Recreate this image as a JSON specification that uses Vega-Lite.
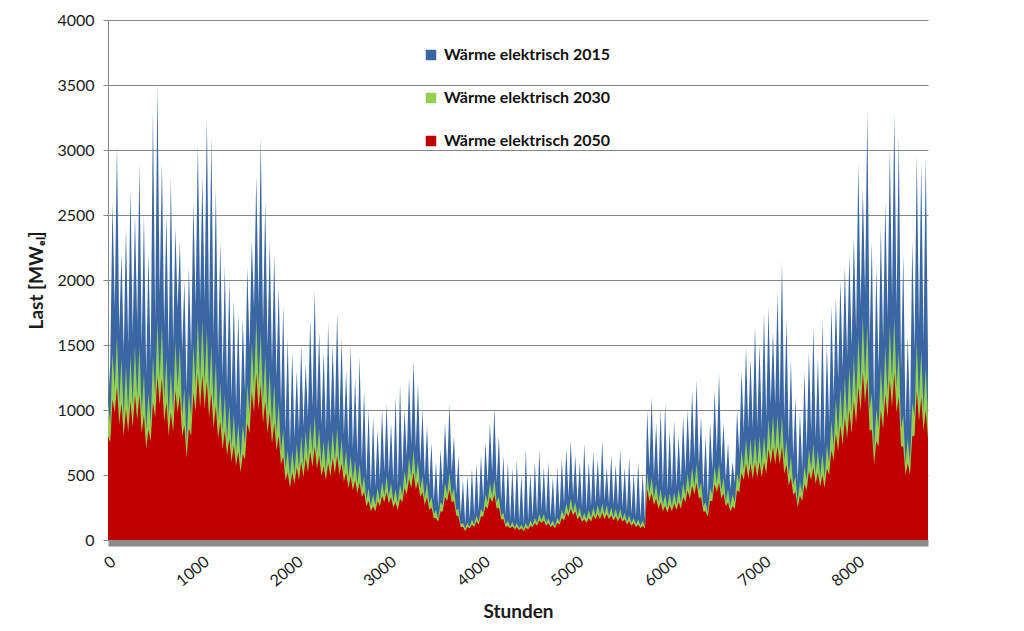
{
"$schema":"https://vega.github.io/schema/vega-lite/v6.json",
"width":820,"height":520,
"autosize":"none",
"padding":{"left":108,"top":20,"right":96,"bottom":91},
"background":"white",
"config":{"view":{"stroke":null},"font":"Lato"},
"data":{"values":[
{"h":0,"r":800,"g":1060,"b":1050},{"h":24,"r":750,"g":890,"b":1360},{"h":48,"r":1080,"g":1440,"b":2600},{"h":72,"r":980,"g":1170,"b":1780},{"h":96,"r":1180,"g":1570,"b":3050},{"h":120,"r":890,"g":1050,"b":1610},{"h":144,"r":1050,"g":1400,"b":2200},{"h":168,"r":800,"g":950,"b":1450},{"h":192,"r":1010,"g":1340,"b":2400},{"h":216,"r":830,"g":990,"b":1510},
{"h":240,"r":1070,"g":1420,"b":2700},{"h":264,"r":870,"g":1040,"b":1580},{"h":288,"r":1120,"g":1490,"b":2500},{"h":312,"r":920,"g":1090,"b":1670},{"h":336,"r":1120,"g":1490,"b":2900},{"h":360,"r":820,"g":980,"b":1490},{"h":384,"r":960,"g":1280,"b":2500},{"h":408,"r":700,"g":840,"b":1280},{"h":432,"r":850,"g":1130,"b":2200},{"h":456,"r":760,"g":900,"b":1380},
{"h":480,"r":1060,"g":1410,"b":3300},{"h":504,"r":940,"g":1110,"b":1700},{"h":528,"r":1260,"g":1680,"b":3500},{"h":552,"r":1040,"g":1240,"b":1890},{"h":576,"r":1240,"g":1650,"b":2900},{"h":600,"r":910,"g":1080,"b":1650},{"h":624,"r":1060,"g":1410,"b":2500},{"h":648,"r":800,"g":950,"b":1450},{"h":672,"r":980,"g":1300,"b":2800},{"h":696,"r":830,"g":990,"b":1510},
{"h":720,"r":1150,"g":1530,"b":2400},{"h":744,"r":980,"g":1170,"b":1780},{"h":768,"r":1120,"g":1490,"b":2300},{"h":792,"r":800,"g":950,"b":1450},{"h":816,"r":880,"g":1170,"b":2000},{"h":840,"r":630,"g":750,"b":1150},{"h":864,"r":860,"g":1140,"b":2100},{"h":888,"r":800,"g":950,"b":1450},{"h":912,"r":1130,"g":1500,"b":2600},{"h":936,"r":990,"g":1180,"b":1800},
{"h":960,"r":1280,"g":1700,"b":3050},{"h":984,"r":1020,"g":1210,"b":1840},{"h":1008,"r":1270,"g":1690,"b":2800},{"h":1032,"r":1010,"g":1200,"b":1830},{"h":1056,"r":1220,"g":1620,"b":3250},{"h":1080,"r":940,"g":1120,"b":1710},{"h":1104,"r":1130,"g":1500,"b":3100},{"h":1128,"r":860,"g":1030,"b":1570},{"h":1152,"r":1030,"g":1370,"b":2700},{"h":1176,"r":780,"g":920,"b":1410},
{"h":1200,"r":910,"g":1210,"b":2300},{"h":1224,"r":700,"g":830,"b":1260},{"h":1248,"r":840,"g":1120,"b":2100},{"h":1272,"r":650,"g":770,"b":1170},{"h":1296,"r":780,"g":1040,"b":2000},{"h":1320,"r":600,"g":710,"b":1090},{"h":1344,"r":730,"g":970,"b":1850},{"h":1368,"r":570,"g":670,"b":1030},{"h":1392,"r":680,"g":900,"b":1750},{"h":1416,"r":520,"g":620,"b":940},
{"h":1440,"r":660,"g":880,"b":1700},{"h":1464,"r":620,"g":740,"b":1130},{"h":1488,"r":900,"g":1200,"b":2100},{"h":1512,"r":820,"g":970,"b":1480},{"h":1536,"r":1140,"g":1520,"b":2300},{"h":1560,"r":980,"g":1170,"b":1780},{"h":1584,"r":1280,"g":1700,"b":2800},{"h":1608,"r":1000,"g":1190,"b":1810},{"h":1632,"r":1200,"g":1600,"b":3100},{"h":1656,"r":900,"g":1070,"b":1640},
{"h":1680,"r":1070,"g":1420,"b":2600},{"h":1704,"r":820,"g":980,"b":1490},{"h":1728,"r":980,"g":1300,"b":2300},{"h":1752,"r":740,"g":880,"b":1350},{"h":1776,"r":900,"g":1200,"b":2200},{"h":1800,"r":690,"g":820,"b":1250},{"h":1824,"r":800,"g":1060,"b":1950},{"h":1848,"r":580,"g":680,"b":1040},{"h":1872,"r":640,"g":850,"b":1800},{"h":1896,"r":460,"g":550,"b":840},
{"h":1920,"r":520,"g":690,"b":1550},{"h":1944,"r":400,"g":480,"b":730},{"h":1968,"r":520,"g":690,"b":1450},{"h":1992,"r":430,"g":510,"b":780},{"h":2016,"r":560,"g":740,"b":1300},{"h":2040,"r":460,"g":550,"b":840},{"h":2064,"r":600,"g":800,"b":1500},{"h":2088,"r":480,"g":570,"b":870},{"h":2112,"r":630,"g":840,"b":1350},{"h":2136,"r":520,"g":620,"b":940},
{"h":2160,"r":680,"g":900,"b":1700},{"h":2184,"r":560,"g":670,"b":1020},{"h":2208,"r":720,"g":960,"b":1920},{"h":2232,"r":550,"g":660,"b":1000},{"h":2256,"r":650,"g":860,"b":1600},{"h":2280,"r":490,"g":580,"b":880},{"h":2304,"r":570,"g":760,"b":1450},{"h":2328,"r":460,"g":540,"b":830},{"h":2352,"r":590,"g":780,"b":1670},{"h":2376,"r":490,"g":580,"b":880},
{"h":2400,"r":630,"g":840,"b":1500},{"h":2424,"r":510,"g":610,"b":930},{"h":2448,"r":650,"g":860,"b":1750},{"h":2472,"r":500,"g":590,"b":900},{"h":2496,"r":590,"g":780,"b":1550},{"h":2520,"r":450,"g":530,"b":810},{"h":2544,"r":520,"g":690,"b":1300},{"h":2568,"r":400,"g":480,"b":730},{"h":2592,"r":490,"g":650,"b":1500},{"h":2616,"r":380,"g":460,"b":700},
{"h":2640,"r":460,"g":610,"b":1250},{"h":2664,"r":360,"g":430,"b":650},{"h":2688,"r":440,"g":590,"b":1410},{"h":2712,"r":330,"g":390,"b":600},{"h":2736,"r":370,"g":490,"b":1150},{"h":2760,"r":260,"g":310,"b":480},{"h":2784,"r":300,"g":400,"b":1000},{"h":2808,"r":220,"g":260,"b":390},{"h":2832,"r":260,"g":350,"b":950},{"h":2856,"r":220,"g":270,"b":410},
{"h":2880,"r":300,"g":400,"b":850},{"h":2904,"r":260,"g":300,"b":460},{"h":2928,"r":340,"g":450,"b":1000},{"h":2952,"r":290,"g":340,"b":520},{"h":2976,"r":370,"g":490,"b":1050},{"h":3000,"r":280,"g":330,"b":510},{"h":3024,"r":330,"g":440,"b":900},{"h":3048,"r":250,"g":290,"b":450},{"h":3072,"r":290,"g":390,"b":1100},{"h":3096,"r":230,"g":280,"b":420},
{"h":3120,"r":320,"g":430,"b":1200},{"h":3144,"r":290,"g":340,"b":520},{"h":3168,"r":400,"g":530,"b":1000},{"h":3192,"r":350,"g":420,"b":640},{"h":3216,"r":470,"g":630,"b":1250},{"h":3240,"r":400,"g":480,"b":730},{"h":3264,"r":520,"g":690,"b":1380},{"h":3288,"r":390,"g":470,"b":710},{"h":3312,"r":450,"g":600,"b":1200},{"h":3336,"r":330,"g":390,"b":590},
{"h":3360,"r":370,"g":490,"b":1000},{"h":3384,"r":270,"g":320,"b":490},{"h":3408,"r":330,"g":440,"b":880},{"h":3432,"r":230,"g":280,"b":420},{"h":3456,"r":250,"g":330,"b":750},{"h":3480,"r":170,"g":200,"b":300},{"h":3504,"r":170,"g":230,"b":600},{"h":3528,"r":140,"g":160,"b":250},{"h":3552,"r":220,"g":290,"b":700},{"h":3576,"r":220,"g":270,"b":410},
{"h":3600,"r":330,"g":440,"b":900},{"h":3624,"r":300,"g":350,"b":540},{"h":3648,"r":390,"g":520,"b":1050},{"h":3672,"r":290,"g":340,"b":520},{"h":3696,"r":300,"g":400,"b":800},{"h":3720,"r":190,"g":230,"b":350},{"h":3744,"r":180,"g":240,"b":650},{"h":3768,"r":100,"g":120,"b":190},{"h":3792,"r":100,"g":130,"b":460},{"h":3816,"r":70,"g":90,"b":130},
{"h":3840,"r":100,"g":130,"b":500},{"h":3864,"r":90,"g":100,"b":160},{"h":3888,"r":120,"g":160,"b":550},{"h":3912,"r":100,"g":120,"b":190},{"h":3936,"r":145,"g":190,"b":590},{"h":3960,"r":120,"g":140,"b":220},{"h":3984,"r":180,"g":240,"b":650},{"h":4008,"r":180,"g":210,"b":320},{"h":4032,"r":260,"g":350,"b":750},{"h":4056,"r":240,"g":290,"b":440},
{"h":4080,"r":330,"g":440,"b":900},{"h":4104,"r":290,"g":340,"b":520},{"h":4128,"r":350,"g":470,"b":1020},{"h":4152,"r":240,"g":290,"b":440},{"h":4176,"r":250,"g":330,"b":800},{"h":4200,"r":160,"g":190,"b":290},{"h":4224,"r":160,"g":210,"b":650},{"h":4248,"r":100,"g":120,"b":190},{"h":4272,"r":110,"g":150,"b":600},{"h":4296,"r":90,"g":100,"b":160},
{"h":4320,"r":105,"g":140,"b":550},{"h":4344,"r":80,"g":95,"b":150},{"h":4368,"r":100,"g":130,"b":620},{"h":4392,"r":75,"g":90,"b":140},{"h":4416,"r":90,"g":120,"b":500},{"h":4440,"r":70,"g":85,"b":130},{"h":4464,"r":95,"g":130,"b":690},{"h":4488,"r":80,"g":95,"b":150},{"h":4512,"r":110,"g":150,"b":520},{"h":4536,"r":100,"g":115,"b":175},
{"h":4560,"r":130,"g":170,"b":600},{"h":4584,"r":110,"g":130,"b":200},{"h":4608,"r":150,"g":200,"b":690},{"h":4632,"r":130,"g":150,"b":230},{"h":4656,"r":150,"g":200,"b":560},{"h":4680,"r":110,"g":130,"b":200},{"h":4704,"r":130,"g":170,"b":600},{"h":4728,"r":100,"g":115,"b":175},{"h":4752,"r":115,"g":150,"b":480},{"h":4776,"r":90,"g":105,"b":160},
{"h":4800,"r":130,"g":170,"b":560},{"h":4824,"r":120,"g":140,"b":220},{"h":4848,"r":170,"g":230,"b":620},{"h":4872,"r":150,"g":180,"b":280},{"h":4896,"r":210,"g":280,"b":700},{"h":4920,"r":180,"g":210,"b":330},{"h":4944,"r":240,"g":320,"b":770},{"h":4968,"r":190,"g":220,"b":340},{"h":4992,"r":220,"g":290,"b":650},{"h":5016,"r":160,"g":190,"b":290},
{"h":5040,"r":185,"g":250,"b":600},{"h":5064,"r":140,"g":160,"b":250},{"h":5088,"r":160,"g":210,"b":740},{"h":5112,"r":130,"g":160,"b":240},{"h":5136,"r":170,"g":230,"b":600},{"h":5160,"r":140,"g":170,"b":260},{"h":5184,"r":190,"g":250,"b":680},{"h":5208,"r":160,"g":185,"b":280},{"h":5232,"r":200,"g":270,"b":620},{"h":5256,"r":160,"g":195,"b":300},
{"h":5280,"r":210,"g":280,"b":770},{"h":5304,"r":160,"g":195,"b":300},{"h":5328,"r":200,"g":270,"b":560},{"h":5352,"r":160,"g":185,"b":280},{"h":5376,"r":190,"g":250,"b":650},{"h":5400,"r":150,"g":175,"b":270},{"h":5424,"r":180,"g":240,"b":580},{"h":5448,"r":140,"g":170,"b":260},{"h":5472,"r":180,"g":240,"b":700},{"h":5496,"r":140,"g":160,"b":250},
{"h":5520,"r":160,"g":210,"b":560},{"h":5544,"r":120,"g":140,"b":220},{"h":5568,"r":145,"g":190,"b":640},{"h":5592,"r":110,"g":130,"b":200},{"h":5616,"r":130,"g":170,"b":520},{"h":5640,"r":100,"g":120,"b":180},{"h":5664,"r":120,"g":160,"b":600},{"h":5688,"r":90,"g":110,"b":170},{"h":5712,"r":110,"g":150,"b":520},{"h":5736,"r":90,"g":105,"b":160},
{"h":5760,"r":390,"g":520,"b":1000},{"h":5784,"r":300,"g":360,"b":550},{"h":5808,"r":360,"g":480,"b":1100},{"h":5832,"r":270,"g":320,"b":490},{"h":5856,"r":320,"g":430,"b":900},{"h":5880,"r":240,"g":290,"b":440},{"h":5904,"r":290,"g":390,"b":1000},{"h":5928,"r":220,"g":270,"b":410},{"h":5952,"r":265,"g":350,"b":1050},{"h":5976,"r":210,"g":250,"b":380},
{"h":6000,"r":270,"g":360,"b":850},{"h":6024,"r":220,"g":260,"b":400},{"h":6048,"r":280,"g":370,"b":920},{"h":6072,"r":230,"g":270,"b":410},{"h":6096,"r":290,"g":390,"b":800},{"h":6120,"r":240,"g":290,"b":440},{"h":6144,"r":330,"g":440,"b":950},{"h":6168,"r":290,"g":340,"b":520},{"h":6192,"r":380,"g":510,"b":1000},{"h":6216,"r":320,"g":380,"b":580},
{"h":6240,"r":420,"g":560,"b":1150},{"h":6264,"r":350,"g":410,"b":630},{"h":6288,"r":440,"g":590,"b":1230},{"h":6312,"r":320,"g":380,"b":580},{"h":6336,"r":330,"g":440,"b":950},{"h":6360,"r":220,"g":260,"b":390},{"h":6384,"r":220,"g":290,"b":800},{"h":6408,"r":180,"g":210,"b":320},{"h":6432,"r":300,"g":400,"b":900},{"h":6456,"r":300,"g":350,"b":540},
{"h":6480,"r":430,"g":570,"b":1150},{"h":6504,"r":370,"g":440,"b":670},{"h":6528,"r":440,"g":590,"b":1280},{"h":6552,"r":320,"g":380,"b":580},{"h":6576,"r":360,"g":480,"b":900},{"h":6600,"r":260,"g":300,"b":460},{"h":6624,"r":290,"g":390,"b":750},{"h":6648,"r":220,"g":260,"b":390},{"h":6672,"r":260,"g":350,"b":600},{"h":6696,"r":240,"g":290,"b":440},
{"h":6720,"r":380,"g":510,"b":1000},{"h":6744,"r":370,"g":440,"b":670},{"h":6768,"r":520,"g":690,"b":1300},{"h":6792,"r":460,"g":540,"b":830},{"h":6816,"r":590,"g":780,"b":1480},{"h":6840,"r":470,"g":560,"b":860},{"h":6864,"r":590,"g":780,"b":1400},{"h":6888,"r":470,"g":560,"b":860},{"h":6912,"r":595,"g":790,"b":1650},{"h":6936,"r":480,"g":570,"b":870},
{"h":6960,"r":600,"g":800,"b":1500},{"h":6984,"r":480,"g":570,"b":870},{"h":7008,"r":600,"g":800,"b":1750},{"h":7032,"r":510,"g":610,"b":930},{"h":7056,"r":700,"g":930,"b":1790},{"h":7080,"r":580,"g":680,"b":1040},{"h":7104,"r":720,"g":960,"b":1600},{"h":7128,"r":580,"g":680,"b":1040},{"h":7152,"r":720,"g":960,"b":1900},{"h":7176,"r":580,"g":680,"b":1040},
{"h":7200,"r":720,"g":960,"b":2150},{"h":7224,"r":510,"g":610,"b":930},{"h":7248,"r":580,"g":770,"b":1700},{"h":7272,"r":420,"g":500,"b":770},{"h":7296,"r":480,"g":640,"b":1380},{"h":7320,"r":350,"g":420,"b":640},{"h":7344,"r":370,"g":490,"b":1100},{"h":7368,"r":250,"g":290,"b":450},{"h":7392,"r":340,"g":450,"b":980},{"h":7416,"r":300,"g":360,"b":550},
{"h":7440,"r":430,"g":570,"b":1300},{"h":7464,"r":380,"g":460,"b":700},{"h":7488,"r":530,"g":700,"b":1450},{"h":7512,"r":460,"g":540,"b":830},{"h":7536,"r":560,"g":740,"b":1640},{"h":7560,"r":430,"g":510,"b":780},{"h":7584,"r":520,"g":690,"b":1400},{"h":7608,"r":410,"g":480,"b":740},{"h":7632,"r":500,"g":670,"b":1700},{"h":7656,"r":400,"g":480,"b":730},
{"h":7680,"r":550,"g":730,"b":1500},{"h":7704,"r":500,"g":590,"b":900},{"h":7728,"r":690,"g":920,"b":1800},{"h":7752,"r":610,"g":720,"b":1100},{"h":7776,"r":820,"g":1090,"b":1860},{"h":7800,"r":680,"g":810,"b":1230},{"h":7824,"r":880,"g":1170,"b":2000},{"h":7848,"r":730,"g":860,"b":1320},{"h":7872,"r":940,"g":1250,"b":2100},{"h":7896,"r":780,"g":920,"b":1410},
{"h":7920,"r":1000,"g":1330,"b":2200},{"h":7944,"r":820,"g":980,"b":1490},{"h":7968,"r":1070,"g":1420,"b":2330},{"h":7992,"r":900,"g":1060,"b":1620},{"h":8016,"r":1180,"g":1570,"b":2900},{"h":8040,"r":990,"g":1180,"b":1800},{"h":8064,"r":1290,"g":1720,"b":2700},{"h":8088,"r":1050,"g":1240,"b":1900},{"h":8112,"r":1250,"g":1660,"b":3300},{"h":8136,"r":840,"g":1000,"b":1520},
{"h":8160,"r":850,"g":1130,"b":2300},{"h":8184,"r":580,"g":690,"b":1060},{"h":8208,"r":760,"g":1010,"b":2100},{"h":8232,"r":720,"g":860,"b":1310},{"h":8256,"r":1000,"g":1330,"b":2400},{"h":8280,"r":850,"g":1010,"b":1540},{"h":8304,"r":1120,"g":1490,"b":2600},{"h":8328,"r":940,"g":1120,"b":1710},{"h":8352,"r":1240,"g":1650,"b":3000},{"h":8376,"r":1020,"g":1220,"b":1860},
{"h":8400,"r":1290,"g":1720,"b":3280},{"h":8424,"r":980,"g":1170,"b":1780},{"h":8448,"r":1100,"g":1460,"b":3100},{"h":8472,"r":720,"g":860,"b":1310},{"h":8496,"r":720,"g":960,"b":2200},{"h":8520,"r":500,"g":590,"b":900},{"h":8544,"r":590,"g":780,"b":1570},{"h":8568,"r":500,"g":590,"b":900},{"h":8592,"r":800,"g":1060,"b":2300},{"h":8616,"r":800,"g":950,"b":1450},
{"h":8640,"r":1150,"g":1530,"b":2960},{"h":8664,"r":910,"g":1080,"b":1650},{"h":8688,"r":1100,"g":1460,"b":2900},{"h":8712,"r":840,"g":1000,"b":1520},{"h":8736,"r":1000,"g":1330,"b":2950},{"h":8760,"r":780,"g":930,"b":1420}
]},
"encoding":{
"x":{"field":"h","type":"quantitative","scale":{"domain":[0,8760],"nice":false,"zero":false},
"axis":{"values":[0,1000,2000,3000,4000,5000,6000,7000,8000],"format":"d","title":"Stunden","grid":false,"ticks":false,"domainWidth":6,"domainColor":"#8c8c8c","offset":3,"labelAngle":-40,"labelFontSize":16,"labelColor":"#1a1a1a","labelPadding":10,"titleFontSize":19,"titleFontWeight":"bold","titleColor":"#1a1a1a","titleY":74,"titleBaseline":"alphabetic","labelFlush":false,"labelOverlap":false}}
},
"layer":[
{"mark":{"type":"area","interpolate":"linear"},
"encoding":{"y":{"field":"b","type":"quantitative","stack":null,"scale":{"domain":[0,4000],"nice":false},"title":"Last [MWₑₗ]",
"axis":{"values":[0,500,1000,1500,2000,2500,3000,3500,4000],"format":"d","grid":true,"gridColor":"#868686","gridWidth":1,"domainColor":"#868686","tickColor":"#868686","tickSize":5,"labelFontSize":16,"labelColor":"#1a1a1a","labelPadding":9,"titleFontSize":19,"titleFontWeight":"bold","titleColor":"#1a1a1a","titleX":-66,"titleY":260,"titleAngle":270,"titleAlign":"center","titleBaseline":"alphabetic"}},
"color":{"datum":"Wärme elektrisch 2015","scale":{"domain":["Wärme elektrisch 2015","Wärme elektrisch 2030","Wärme elektrisch 2050"],"range":["#3A67A3","#92D050","#C00000"]},
"legend":{"title":null,"orient":"none","legendX":315,"legendY":27,"direction":"vertical","symbolType":"square","symbolSize":110,"symbolStrokeWidth":0,"symbolOpacity":1,"labelFontSize":16,"labelFontWeight":"bold","labelFont":"Lato","labelColor":"#111111","labelOffset":5,"rowPadding":27,"labelLimit":400}}}},
{"mark":{"type":"area","interpolate":"linear"},
"encoding":{"y":{"field":"g","type":"quantitative","stack":null,"title":"Last [MWₑₗ]",
"axis":{"values":[0,500,1000,1500,2000,2500,3000,3500,4000],"format":"d","grid":true,"gridColor":"#868686","gridWidth":1,"domainColor":"#868686","tickColor":"#868686","tickSize":5,"labelFontSize":16,"labelColor":"#1a1a1a","labelPadding":9,"titleFontSize":19,"titleFontWeight":"bold","titleColor":"#1a1a1a","titleX":-66,"titleY":260,"titleAngle":270,"titleAlign":"center","titleBaseline":"alphabetic"}},"color":{"datum":"Wärme elektrisch 2030"}}},
{"mark":{"type":"area","interpolate":"linear"},
"encoding":{"y":{"field":"r","type":"quantitative","stack":null,"title":"Last [MWₑₗ]",
"axis":{"values":[0,500,1000,1500,2000,2500,3000,3500,4000],"format":"d","grid":true,"gridColor":"#868686","gridWidth":1,"domainColor":"#868686","tickColor":"#868686","tickSize":5,"labelFontSize":16,"labelColor":"#1a1a1a","labelPadding":9,"titleFontSize":19,"titleFontWeight":"bold","titleColor":"#1a1a1a","titleX":-66,"titleY":260,"titleAngle":270,"titleAlign":"center","titleBaseline":"alphabetic"}},"color":{"datum":"Wärme elektrisch 2050"}}}
]
}
